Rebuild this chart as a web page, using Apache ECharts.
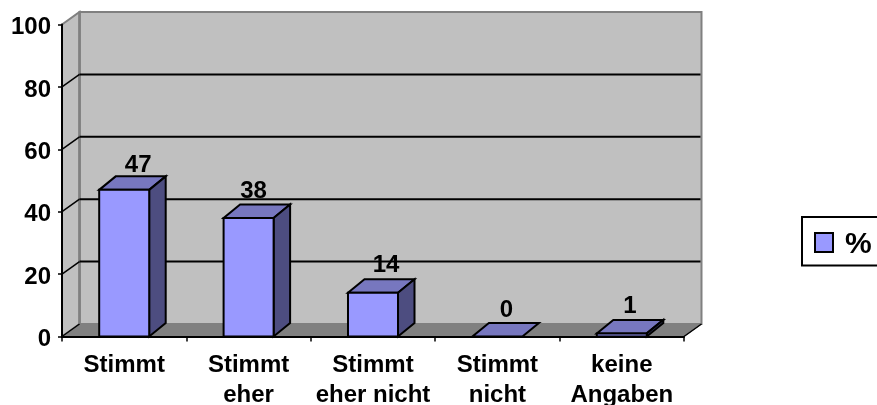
<!DOCTYPE html>
<html><head><meta charset="utf-8">
<style>html,body{margin:0;padding:0;background:#fff}#c{width:877px;height:405px}</style>
<script src="https://cdn.jsdelivr.net/npm/echarts@6/dist/echarts.min.js"></script>
</head><body><div id="c"></div>
<script>
const categories = ['Stimmt', 'Stimmt\neher', 'Stimmt\neher nicht', 'Stimmt\nnicht', 'keine\nAngaben'];
const percentValues = [47, 38, 14, 0, 1];
const yTicks = [0, 20, 40, 60, 80, 100];
const seriesName = '%';

const DX = 17.5, DY = -12.5;
const FONT = '"Liberation Sans", Arial, sans-serif';
const LABEL_NUDGE = [[14, -24], [5, -27], [13, -27], [9, -26.5], [8, -27.4]];
const poly = (points, fill, stroke, lineWidth) => ({
  type: 'polygon', shape: { points }, style: { fill, stroke, lineWidth }
});
const line = (x1, y1, x2, y2, stroke, lineWidth) => ({
  type: 'line', shape: { x1, y1, x2, y2 }, style: { stroke, lineWidth, fill: null }
});

function renderWalls(params, api) {
  const v = api.value(0), cs = params.coordSys;
  const y = api.coord([0, v])[1];
  const l = cs.x, r = cs.x + cs.width, b = cs.y + cs.height, t = cs.y;
  const children = [];
  if (params.dataIndex === 0) {
    children.push(poly([[l + DX, t + DY], [r + DX, t + DY], [r + DX, b + DY], [l + DX, b + DY]], '#c0c0c0', '#808080', 2));
    children.push(poly([[l, t], [l + DX, t + DY], [l + DX, b + DY], [l, b]], '#c0c0c0', '#808080', 2));
    children.push(poly([[l, b], [l + DX, b + DY], [r + DX, b + DY], [r, b]], '#808080', '#808080', 1));
    children.push(line(r, b, r + DX, b + DY, '#000', 1.5));
    children.push(line(l + DX, b + DY, l + DX, t + DY, '#808080', 2.5));
  }
  if (v > 0 && v < 100) {
    children.push(line(l + DX, y + DY, r + DX - 1, y + DY, '#000', 2));
  }
  if (v < 100) {
    children.push(line(l, y, l + DX, y + DY, '#000', 1.5));
  }
  return { type: 'group', children };
}

function renderBar(params, api) {
  const idx = api.value(0), val = api.value(1);
  const [cx, y0] = api.coord([idx, 0]);
  const yt = api.coord([idx, val])[1];
  const w = api.size([1, 0])[0] * 0.402;
  const l = cx - w / 2, r = cx + w / 2;
  const children = [];
  const S = { stroke: '#000', lw: 2 };
  children.push(poly([[l, yt], [r, yt], [r + DX - 1, yt + DY - 1], [l + DX - 1, yt + DY - 1]], '#7777bf', S.stroke, S.lw));
  if (val > 0) {
    children.push(poly([[r, yt], [r + DX - 1, yt + DY - 1], [r + DX - 1, y0 + DY - 1], [r, y0]], '#4d4d80', S.stroke, S.lw));
    children.push(poly([[l, yt], [r, yt], [r, y0], [l, y0]], '#9999ff', S.stroke, S.lw));
  }
  const nudge = LABEL_NUDGE[idx];
  children.push({
    type: 'text',
    style: {
      text: String(val), x: cx + nudge[0], y: yt + nudge[1],
      font: 'bold 24px ' + FONT, fill: '#000', align: 'center', verticalAlign: 'middle'
    }
  });
  return { type: 'group', children };
}

const chart = echarts.init(document.getElementById('c'), null, { renderer: 'canvas' });
chart.setOption({
  animation: false,
  backgroundColor: '#fff',
  grid: { left: 62, right: 193, top: 24.5, bottom: 68.5, containLabel: false, outerBoundsMode: 'none' },
  xAxis: {
    type: 'category', data: categories, z: 5,
    axisLine: { lineStyle: { color: '#000', width: 2 } },
    axisTick: { show: true, alignWithLabel: false, length: 5, lineStyle: { color: '#000', width: 1.5 } },
    axisLabel: { color: '#000', fontFamily: FONT, fontWeight: 'bold', fontSize: 24, margin: 14, lineHeight: 30, interval: 0 },
    splitLine: { show: false }
  },
  yAxis: {
    type: 'value', min: 0, max: 100, interval: 20, z: 5,
    axisLine: { show: true, lineStyle: { color: '#000', width: 2 } },
    axisTick: { show: true, length: 4, lineStyle: { color: '#000', width: 1.5 } },
    axisLabel: {
      color: '#000', margin: 11, formatter: '{t|{value}}',
      rich: { t: { color: '#000', fontFamily: FONT, fontWeight: 'bold', fontSize: 24, padding: [6, 0, 0, 0] } }
    },
    splitLine: { show: false }
  },
  legend: {
    show: true, data: [seriesName], left: 802, top: 217, icon: 'rect', itemWidth: 18, itemHeight: 19, itemGap: 0,
    padding: [12.5, 8, 6, 12], borderColor: '#000', borderWidth: 2, backgroundColor: '#fff',
    formatter: '{p|{name}}',
    textStyle: {
      color: '#000', fontFamily: FONT, fontWeight: 'bold', fontSize: 30,
      rich: { p: { color: '#000', fontFamily: FONT, fontWeight: 'bold', fontSize: 30, padding: [4, 0, 0, 7] } }
    },
    selectedMode: false
  },
  tooltip: { show: false },
  series: [
    {
      name: 'walls', type: 'custom', silent: true, clip: false, z: 1,
      coordinateSystem: 'cartesian2d', renderItem: renderWalls,
      encode: { y: 0 }, data: yTicks.map(v => [v])
    },
    {
      name: seriesName, type: 'custom', clip: false, z: 3,
      coordinateSystem: 'cartesian2d', renderItem: renderBar,
      itemStyle: { color: '#9999ff', borderColor: '#000', borderWidth: 1.5 },
      encode: { x: 0, y: 1 }, data: percentValues.map((v, i) => [i, v])
    }
  ]
});
</script></body></html>
